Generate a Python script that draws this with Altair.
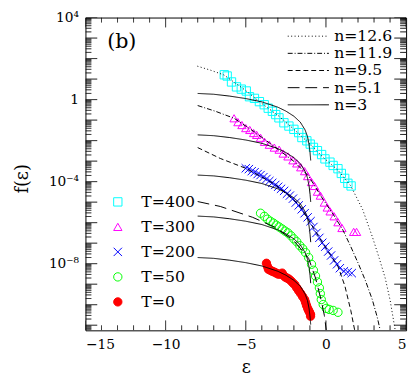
import altair as alt
import pandas as pd

W, H = 327, 319

# ---------------- data: (epsilon, log10 f) ----------------
T400 = [[-6.34, 1.21], [-6.16, 1.15], [-5.89, 0.86], [-5.58, 0.62], [-5.28, 0.51], [-4.97, 0.42],
        [-4.77, 0.14], [-4.46, 0.06], [-4.15, -0.10], [-3.85, -0.25], [-3.60, -0.42], [-3.34, -0.57],
        [-3.13, -0.73], [-2.93, -0.89], [-2.62, -1.13], [-2.31, -1.29], [-2.00, -1.45], [-1.70, -1.61],
        [-1.50, -1.85], [-1.19, -2.01], [-0.98, -2.17], [-0.78, -2.33], [-0.53, -2.49], [-0.27, -2.68],
        [-0.06, -2.89], [0.25, -3.05], [0.45, -3.21], [0.75, -3.37], [0.96, -3.60], [1.17, -3.84],
        [1.37, -4.08], [1.57, -4.21]]
T300 = [[-5.73, -0.91], [-5.49, -1.10], [-5.24, -1.24], [-5.00, -1.39], [-4.75, -1.48], [-4.51, -1.63],
        [-4.32, -1.72], [-4.08, -1.86], [-3.83, -2.06], [-3.53, -2.20], [-3.22, -2.34], [-2.92, -2.44],
        [-2.67, -2.63], [-2.37, -2.77], [-2.06, -2.96], [-1.82, -3.11], [-1.57, -3.30], [-1.33, -3.49],
        [-1.14, -3.73], [-0.90, -4.02], [-0.72, -4.21], [-0.53, -4.49], [-0.35, -4.68], [-0.10, -5.02],
        [0.08, -5.26], [0.26, -5.45], [0.51, -5.69], [0.75, -5.98], [1.00, -6.26], [1.73, -6.45],
        [1.91, -6.45]]
T200 = [[-5.00, -3.35], [-4.81, -3.39], [-4.63, -3.49], [-4.45, -3.54], [-4.26, -3.63], [-4.08, -3.68],
        [-3.90, -3.78], [-3.71, -3.87], [-3.53, -3.97], [-3.35, -4.06], [-3.16, -4.16], [-2.98, -4.25],
        [-2.80, -4.35], [-2.61, -4.45], [-2.43, -4.59], [-2.25, -4.68], [-2.06, -4.83], [-1.88, -5.02],
        [-1.70, -5.16], [-1.51, -5.35], [-1.33, -5.54], [-1.14, -5.74], [-0.96, -5.93], [-0.78, -6.21],
        [-0.59, -6.50], [-0.41, -6.74], [-0.23, -6.98], [-0.04, -7.17], [0.14, -7.41], [0.32, -7.60],
        [0.51, -7.84], [0.69, -8.03], [0.87, -8.22], [1.12, -8.37], [1.36, -8.41], [1.61, -8.46]]
T50 = [[-4.08, -5.54], [-3.84, -5.69], [-3.65, -5.83], [-3.47, -5.93], [-3.28, -6.02], [-3.10, -6.12],
       [-2.92, -6.21], [-2.73, -6.31], [-2.55, -6.41], [-2.37, -6.50], [-2.18, -6.64], [-2.00, -6.79],
       [-1.82, -6.93], [-1.63, -7.12], [-1.45, -7.27], [-1.27, -7.46], [-1.08, -7.70], [-0.90, -8.03],
       [-0.78, -8.32], [-0.65, -8.60], [-0.53, -8.89], [-0.41, -9.18], [-0.35, -9.46], [-0.29, -9.75],
       [-0.17, -9.99], [0.02, -10.18], [0.20, -10.23], [0.45, -10.28], [0.75, -10.37]]
T0 = [[-3.71, -7.98], [-3.65, -8.13], [-3.59, -8.27], [-3.47, -8.32], [-3.35, -8.37], [-3.22, -8.41],
      [-3.10, -8.46], [-2.98, -8.51], [-2.86, -8.51], [-2.73, -8.46], [-2.67, -8.56], [-2.55, -8.65],
      [-2.43, -8.70], [-2.31, -8.75], [-2.18, -8.84], [-2.06, -8.94], [-1.94, -9.03], [-1.82, -9.18],
      [-1.70, -9.32], [-1.57, -9.46], [-1.45, -9.61], [-1.33, -9.75], [-1.27, -9.89], [-1.21, -10.04],
      [-1.14, -10.18], [-1.08, -10.28], [-1.02, -10.37], [-0.96, -10.47], [-0.96, -10.56]]

# fitted curves
fit_n126 = [[-8.02, 1.63], [-7.22, 1.44], [-6.36, 1.20], [-5.07, 0.48], [-4.15, -0.10], [-2.93, -0.81],
            [-2.01, -1.44], [-1.02, -2.15], [-0.17, -2.82], [0.75, -3.44], [1.55, -4.21], [2.29, -5.36],
            [2.90, -6.70], [3.33, -7.75], [3.70, -8.71], [4.01, -9.81], [4.32, -11.24]]
fit_n119 = [[-8.00, -0.29], [-6.89, -0.57], [-5.73, -0.91], [-4.45, -1.58], [-3.22, -2.29], [-2.00, -3.01],
            [-1.08, -3.73], [-0.17, -4.88], [0.45, -5.59], [1.06, -6.36], [1.55, -7.17], [2.04, -8.03],
            [2.47, -8.84], [2.89, -9.75], [3.20, -10.61], [3.38, -11.23]]
fit_n95 = [[-8.00, -2.34], [-6.59, -2.87], [-5.00, -3.35], [-3.22, -4.11], [-1.69, -5.11], [-0.17, -7.03],
           [0.75, -8.13], [1.18, -9.08], [1.55, -10.28], [1.79, -11.23]]
fit_n51 = [[-8.00, -4.97], [-6.59, -5.21], [-4.57, -5.74], [-3.22, -6.21], [-2.00, -6.88], [-1.08, -7.74],
           [-0.65, -8.70], [-0.29, -9.80], [-0.10, -10.52], [0.02, -11.23]]
fit_n3_a = [[-8, 0.30], [-7, 0.26], [-6, 0.17], [-5, 0.05], [-4, -0.11], [-3, -0.37], [-2.5, -0.56],
            [-2, -0.81], [-1.6, -1.10], [-1.3, -1.48], [-1.15, -1.80], [-1.05, -2.20], [-0.99, -2.60],
            [-0.95, -2.97]]
fit_n3_b = [[-8, -1.72], [-7, -1.76], [-6, -1.85], [-5, -1.97], [-4, -2.13], [-3, -2.39], [-2.5, -2.58],
            [-2, -2.83], [-1.6, -3.12], [-1.3, -3.50], [-1.15, -3.82], [-1.05, -4.22], [-0.99, -4.62],
            [-0.95, -4.99]]
fit_n3_c = [[-8, -3.68], [-7, -3.72], [-6, -3.81], [-5, -3.93], [-4, -4.09], [-3, -4.35], [-2.5, -4.54],
            [-2, -4.79], [-1.6, -5.08], [-1.3, -5.46], [-1.15, -5.78], [-1.05, -6.18], [-0.99, -6.58],
            [-0.95, -6.95]]
fit_n3_d = [[-8, -5.68], [-7, -5.72], [-6, -5.81], [-5, -5.93], [-4, -6.09], [-3, -6.35], [-2.5, -6.54],
            [-2, -6.79], [-1.6, -7.08], [-1.3, -7.46], [-1.15, -7.78], [-1.05, -8.18], [-0.99, -8.58],
            [-0.95, -8.95]]
fit_n3_e = [[-8, -7.70], [-7, -7.74], [-6, -7.83], [-5, -7.95], [-4, -8.11], [-3, -8.37], [-2.5, -8.56],
            [-2, -8.81], [-1.6, -9.10], [-1.3, -9.48], [-1.15, -9.80], [-1.05, -10.20], [-0.99, -10.60],
            [-0.95, -10.97]]

series_labels = ["T=400", "T=300", "T=200", "T=50", "T=0"]
series_data = [T400, T300, T200, T50, T0]
series_colors = ["#00ffff", "#ff00ff", "#0000ff", "#00ff00", "#ff0000"]
series_shapes = ["square", "triangle-up", "M-1,-1L1,1M-1,1L1,-1", "circle", "circle"]
series_fills = ["transparent", "transparent", "transparent", "transparent", "#ff0000"]

fit_labels = ["n=12.6", "n=11.9", "n=9.5", "n=5.1", "n=3"]
fit_dashes = [[1, 2.5], [5, 2, 1, 2], [5, 3], [12, 6], [1, 0]]
fit_curves = [("c1", "n=12.6", fit_n126), ("c2", "n=11.9", fit_n119), ("c3", "n=9.5", fit_n95),
              ("c4", "n=5.1", fit_n51), ("c5", "n=3", fit_n3_a), ("c6", "n=3", fit_n3_b),
              ("c7", "n=3", fit_n3_c), ("c8", "n=3", fit_n3_d), ("c9", "n=3", fit_n3_e)]

x_ticks = [-15, -10, -5, 0, 5]
x_tick_labels = ["\u221215", "\u221210", "\u22125", "0", "5"]
y_ticks = [1e4, 1.0, 1e-4, 1e-8]
y_tick_labels = ["10\u2074", "1", "10\u207b\u2074", "10\u207b\u2078"]
x_domain = [-15, 5]
y_log_domain = [-11.25, 4]
y_domain = [10 ** y_log_domain[0], 10 ** y_log_domain[1]]
panel_label = ["(b)"]

# ---------------- tables ----------------
pts = pd.DataFrame([{"eps": e, "f": 10 ** L, "T": lab}
                    for lab, arr in zip(series_labels, series_data) for e, L in arr])
line_rows = [{"eps": e, "f": 10 ** L, "curve": cid, "n": n}
             for cid, n, arr in fit_curves for e, L in arr]

# inward tick marks of the frame (axis furniture), drawn as short segments through the same scales
px_per_unit = W / (x_domain[1] - x_domain[0])
px_per_decade = H / (y_log_domain[1] - y_log_domain[0])
X_MAJ, X_MIN, Y_MAJ, Y_MIN = 10, 5, 12, 6
tick_rows = []
for v in range(x_domain[0], x_domain[1] + 1):
    L = X_MAJ if v % 5 == 0 else X_MIN
    d = L / px_per_decade
    tick_rows += [{"eps": v, "f": 10 ** y_log_domain[0], "curve": f"xb{v}", "n": "tick"},
                  {"eps": v, "f": 10 ** (y_log_domain[0] + d), "curve": f"xb{v}", "n": "tick"},
                  {"eps": v, "f": 10 ** (y_log_domain[1] - d), "curve": f"xt{v}", "n": "tick"},
                  {"eps": v, "f": 10 ** y_log_domain[1], "curve": f"xt{v}", "n": "tick"}]
for p in range(-12, 5):
    for k in range(1, 10):
        val = k * 10.0 ** p
        if not (y_domain[0] <= val <= y_domain[1] * 1.0001):
            continue
        L = Y_MAJ if k == 1 else Y_MIN
        d = L / px_per_unit
        tick_rows += [{"eps": x_domain[0], "f": val, "curve": f"yl{k}e{p}", "n": "tick"},
                      {"eps": x_domain[0] + d, "f": val, "curve": f"yl{k}e{p}", "n": "tick"},
                      {"eps": x_domain[1] - d, "f": val, "curve": f"yr{k}e{p}", "n": "tick"},
                      {"eps": x_domain[1], "f": val, "curve": f"yr{k}e{p}", "n": "tick"}]
lines = pd.DataFrame(line_rows + tick_rows)


def label_expr(vals, labs):
    parts = [f"abs(datum.value - ({v!r})) <= {abs(v) * 1e-6 + 1e-300!r} ? '{l}'" for v, l in zip(vals, labs)]
    return " : ".join(parts) + " : ''"


FONT = "DejaVu Serif"
xs = alt.Scale(domain=x_domain, nice=False, zero=False)
ys = alt.Scale(type="log", domain=y_domain, nice=False)

legend_T = alt.Legend(orient="none", legendX=25, legendY=180, title=None,
                      labelFontSize=16, rowPadding=9.5, labelOffset=16, padding=0,
                      symbolStrokeWidth=1, symbolSize=72)

# main points layer with labelled axes
points = alt.Chart(pts).mark_point(opacity=1, strokeWidth=1, size=72, clip=True).encode(
    x=alt.X("eps:Q", scale=xs, axis=alt.Axis(
        orient="bottom", values=x_ticks, labelExpr=label_expr(x_ticks, x_tick_labels),
        ticks=False, domain=False, grid=False, labelFontSize=14, labelPadding=8,
        title="\u03b5", titleFontSize=18, titlePadding=7, titleFontWeight="normal")),
    y=alt.Y("f:Q", scale=ys, axis=alt.Axis(
        orient="left", values=y_ticks, labelExpr=label_expr(y_ticks, y_tick_labels),
        ticks=False, domain=False, grid=False, labelFontSize=14, labelPadding=7,
        title="f(\u03b5)", titleFontSize=18, titleFontWeight="normal", titlePadding=17,
        titleY=164)),
    shape=alt.Shape("T:N", scale=alt.Scale(domain=series_labels, range=series_shapes), legend=legend_T),
    stroke=alt.Stroke("T:N", scale=alt.Scale(domain=series_labels, range=series_colors), legend=legend_T),
    fill=alt.Fill("T:N", scale=alt.Scale(domain=series_labels, range=series_fills), legend=legend_T),
)

curves = alt.Chart(lines).mark_line(color="black", strokeWidth=1, clip=True).encode(
    x=alt.X("eps:Q", scale=xs, axis=None),
    y=alt.Y("f:Q", scale=ys, axis=None),
    detail="curve:N",
    order="eps:Q",
    strokeDash=alt.StrokeDash("n:N", scale=alt.Scale(domain=fit_labels + ["tick"],
                                                     range=fit_dashes + [[1, 0]]),
                              legend=alt.Legend(orient="none", legendX=219.3, legendY=11, title=None,
                                                values=fit_labels,
                                                symbolType="M-5,0L5,0", symbolSize=70.56,
                                                symbolStrokeColor="black", symbolStrokeWidth=1,
                                                labelFontSize=16, labelOffset=18.3, rowPadding=1.5,
                                                padding=0)),
)

label = alt.Chart(pd.DataFrame({"label": panel_label})).mark_text(
    font=FONT, fontSize=21, align="center", baseline="middle", color="black"
).encode(x=alt.value(37), y=alt.value(25), text="label:N")

chart = alt.layer(points, curves, label).resolve_axis(
    x="independent", y="independent"
).properties(
    width=W, height=H,
    autosize=alt.AutoSizeParams(type="none"),
    padding={"left": 79, "top": 6, "right": 5, "bottom": 52},
).configure_view(stroke="black", strokeWidth=1).configure_axis(
    labelFont=FONT, titleFont=FONT, labelColor="black", titleColor="black", tickWidth=1
).configure_legend(labelFont=FONT, labelColor="black")

chart.save("out.html", embed_options={"renderer": "svg", "actions": False})
